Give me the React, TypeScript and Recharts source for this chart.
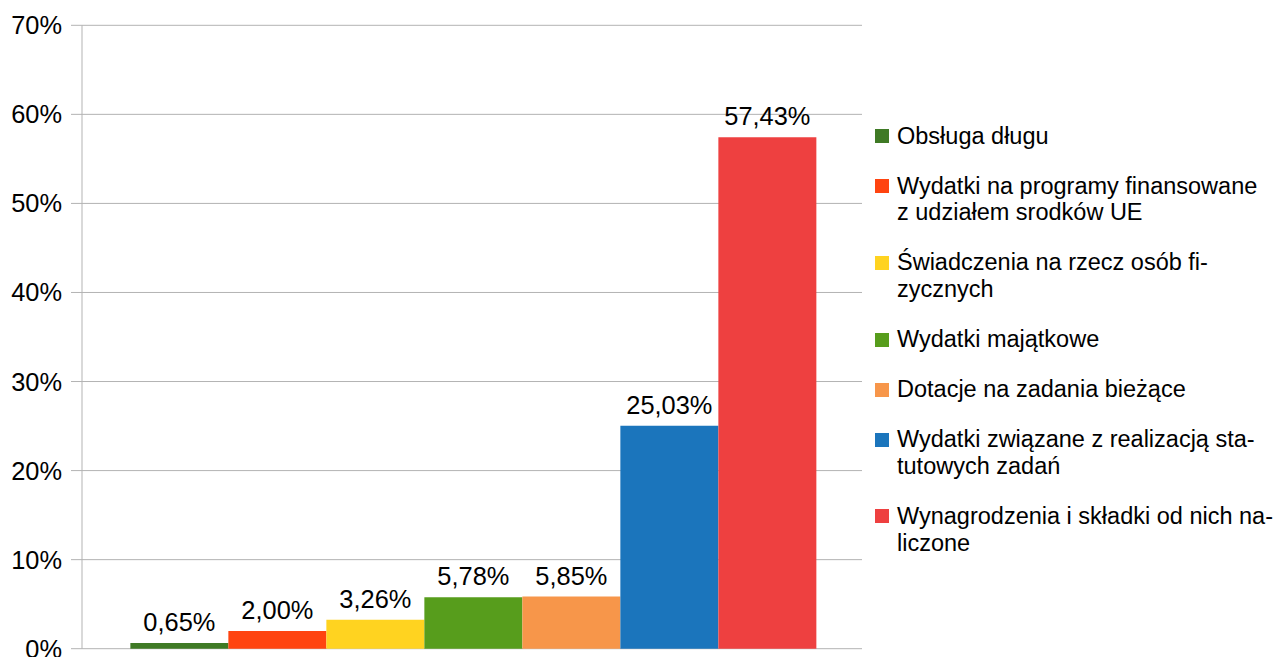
import React from 'react';
import { BarChart, Bar, XAxis, YAxis, CartesianGrid, LabelList, Legend } from 'recharts';

const categories = [''];
const seriesNames = [
  'Obsługa długu',
  'Wydatki na programy finansowane z udziałem srodków UE',
  'Świadczenia na rzecz osób fizycznych',
  'Wydatki majątkowe',
  'Dotacje na zadania bieżące',
  'Wydatki związane z realizacją statutowych zadań',
  'Wynagrodzenia i składki od nich naliczone',
];
const legendLines = [
  ['Obsługa długu'],
  ['Wydatki na programy finansowane', 'z udziałem srodków UE'],
  ['Świadczenia na rzecz osób fi-', 'zycznych'],
  ['Wydatki majątkowe'],
  ['Dotacje na zadania bieżące'],
  ['Wydatki związane z realizacją sta-', 'tutowych zadań'],
  ['Wynagrodzenia i składki od nich na-', 'liczone'],
];
const seriesValues = [0.65, 2.0, 3.26, 5.78, 5.85, 25.03, 57.43];
const seriesColors = ['#3f7a25', '#ff4410', '#ffd320', '#579d1c', '#f7964a', '#1b75bc', '#ee4040'];
const yTicks = [0, 10, 20, 30, 40, 50, 60, 70];

const keys = seriesNames.map((_, i) => `s${i}`);
const data = categories.map((c) => {
  const row: Record<string, any> = { cat: c };
  keys.forEach((k, i) => (row[k] = seriesValues[i]));
  return row;
});

const FONT = '"Liberation Sans", Arial, sans-serif';
const GRID = '#b3b3b3';

const fmt = (v: any) => `${Number(v).toFixed(2).replace('.', ',')}%`;

const LegendContent = () => (
  <div style={{ fontFamily: FONT, fontSize: 23.5, lineHeight: '26.7px', color: '#000' }}>
    {seriesNames.map((n, i) => (
      <div key={n} style={{ display: 'flex', alignItems: 'flex-start', marginBottom: 23.3 }}>
        <div
          style={{
            width: 14,
            height: 14,
            background: seriesColors[i],
            marginTop: 6.5,
            marginRight: 8,
            flex: '0 0 auto',
          }}
        />
        <div>
          {legendLines[i].map((l) => (
            <div key={l} style={{ whiteSpace: 'nowrap' }}>{l}</div>
          ))}
        </div>
      </div>
    ))}
  </div>
);

export default function App() {
  return (
    <div style={{ position: 'absolute', left: 0, top: 0 }}>
      <BarChart
        width={1274}
        height={690}
        data={data}
        margin={{ top: 25.3, right: 22, bottom: 41.3, left: 0 }}
        barCategoryGap="6.2%"
        barGap={0}
      >
        <CartesianGrid vertical={false} stroke={GRID} strokeWidth={1} />
        <XAxis xAxisId="cat" dataKey="cat" hide />
        <XAxis
          xAxisId="frame"
          type="number"
          domain={[0, 1]}
          ticks={[0, 1]}
          axisLine={false}
          tickLine={{ stroke: GRID }}
          tickSize={11}
          tickFormatter={() => ''}
          height={0}
        />
        <YAxis
          domain={[0, 70]}
          ticks={yTicks}
          width={82}
          tickFormatter={(v) => `${v}%`}
          axisLine={{ stroke: GRID }}
          tickLine={{ stroke: GRID }}
          tickSize={11}
          tickMargin={9}
          tick={{ fontFamily: FONT, fontSize: 25.4, fill: '#000' }}
          interval={0}
        />
        <YAxis
          yAxisId="r"
          orientation="right"
          domain={[0, 70]}
          width={0}
          tick={false}
          tickLine={false}
          axisLine={{ stroke: GRID }}
        />
        <Legend
          layout="vertical"
          align="right"
          verticalAlign="top"
          wrapperStyle={{ left: 875, top: 122.7, width: 390 }}
          content={<LegendContent />}
        />
        {keys.map((k, i) => (
          <Bar
            key={k}
            xAxisId="cat"
            dataKey={k}
            name={seriesNames[i]}
            fill={seriesColors[i]}
            isAnimationActive={false}
          >
            <LabelList
              dataKey={k}
              position="top"
              offset={12}
              formatter={fmt}
              style={{ fontFamily: FONT, fontSize: 25.4, fill: '#000' }}
            />
          </Bar>
        ))}
      </BarChart>
    </div>
  );
}
